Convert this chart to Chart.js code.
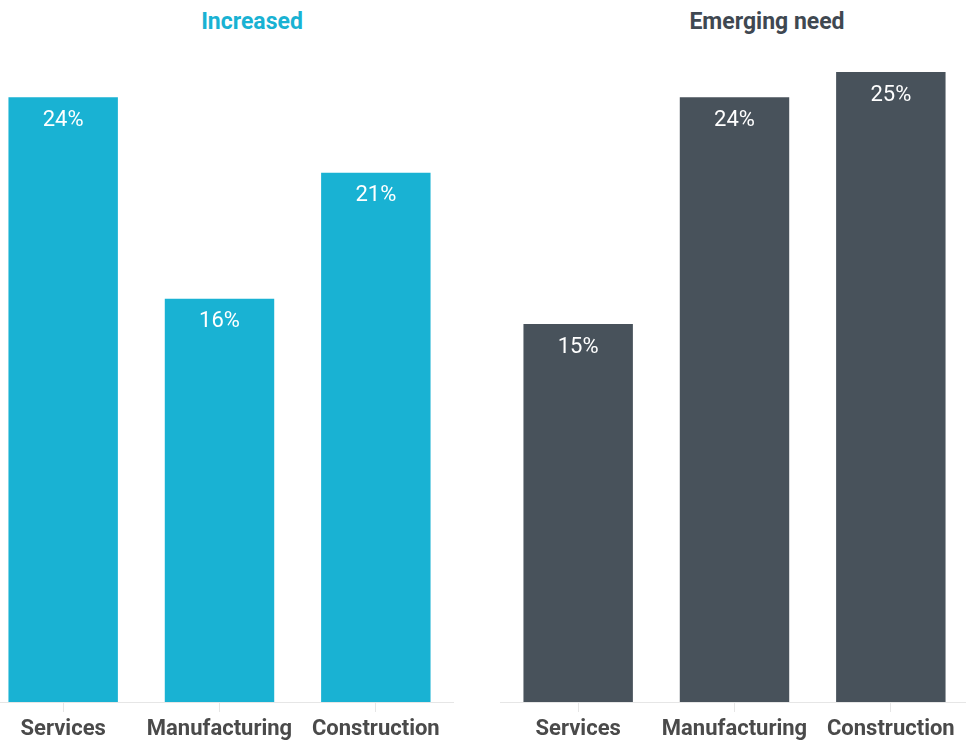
<!DOCTYPE html>
<html>
<head>
<meta charset="utf-8">
<script src="https://cdn.jsdelivr.net/npm/chart.js@4"></script>
<style>
    html, body { margin: 0; padding: 0; background: #fff; overflow: hidden; }
    body { width: 966px; height: 745px; position: relative; font-family: Roboto, sans-serif; }
    .title { position: absolute; top: 8px; font-weight: 700; font-size: 23px; text-align: center; width: 300px; }
    #titleLeft { left: 102px; color: #19b2d3; }
    #titleRight { left: 617px; color: #3f4851; }
    canvas { position: absolute; top: 72px; }
    #chartLeft { left: -15px; }
    #chartRight { left: 500px; }
</style>
</head>
<body>
<div class="title" id="titleLeft">Increased</div>
<div class="title" id="titleRight">Emerging need</div>
<canvas id="chartLeft" width="469" height="673"></canvas>
<canvas id="chartRight" width="469" height="673"></canvas>
<script>
const categories = ['Services', 'Manufacturing', 'Construction'];
const increased = [24, 16, 21];
const emergingNeed = [15, 24, 25];
const yMax = 25;

// Value labels inside the top of each bar
const barLabels = {
    id: 'barLabels',
    afterDatasetsDraw(chart) {
        const ctx = chart.ctx;
        ctx.save();
        ctx.fillStyle = '#ffffff';
        ctx.font = '400 22px Roboto';
        ctx.textAlign = 'center';
        ctx.textBaseline = 'middle';
        chart.data.datasets.forEach((ds, i) => {
            chart.getDatasetMeta(i).data.forEach((bar, j) => {
                ctx.fillText(ds.data[j] + '%', bar.x, bar.y + 23);
            });
        });
        ctx.restore();
    }
};

function makeChart(id, values, color) {
    return new Chart(document.getElementById(id), {
        type: 'bar',
        data: {
            labels: categories,
            datasets: [{
                data: values,
                backgroundColor: color,
                borderWidth: 0,
                barPercentage: 0.7,
                categoryPercentage: 1
            }]
        },
        options: {
            responsive: false,
            devicePixelRatio: 1,
            animation: false,
            layout: { padding: 0 },
            plugins: {
                legend: { display: false },
                tooltip: { enabled: false }
            },
            scales: {
                x: {
                    grid: {
                        offset: false,
                        drawOnChartArea: false,
                        tickLength: 10,
                        color: '#e6e6e6'
                    },
                    border: { color: '#e6e6e6' },
                    ticks: {
                        color: '#4a4a4a',
                        padding: 4,
                        maxRotation: 0,
                        minRotation: 0,
                        autoSkip: false,
                        font: { family: 'Roboto', size: 22, weight: '700' }
                    },
                    afterFit(scale) { scale.height = 43; }
                },
                y: {
                    display: false,
                    min: 0,
                    max: yMax
                }
            }
        },
        plugins: [barLabels]
    });
}

makeChart('chartLeft', increased, '#19b2d3');
makeChart('chartRight', emergingNeed, '#48525b');
</script>
</body>
</html>
